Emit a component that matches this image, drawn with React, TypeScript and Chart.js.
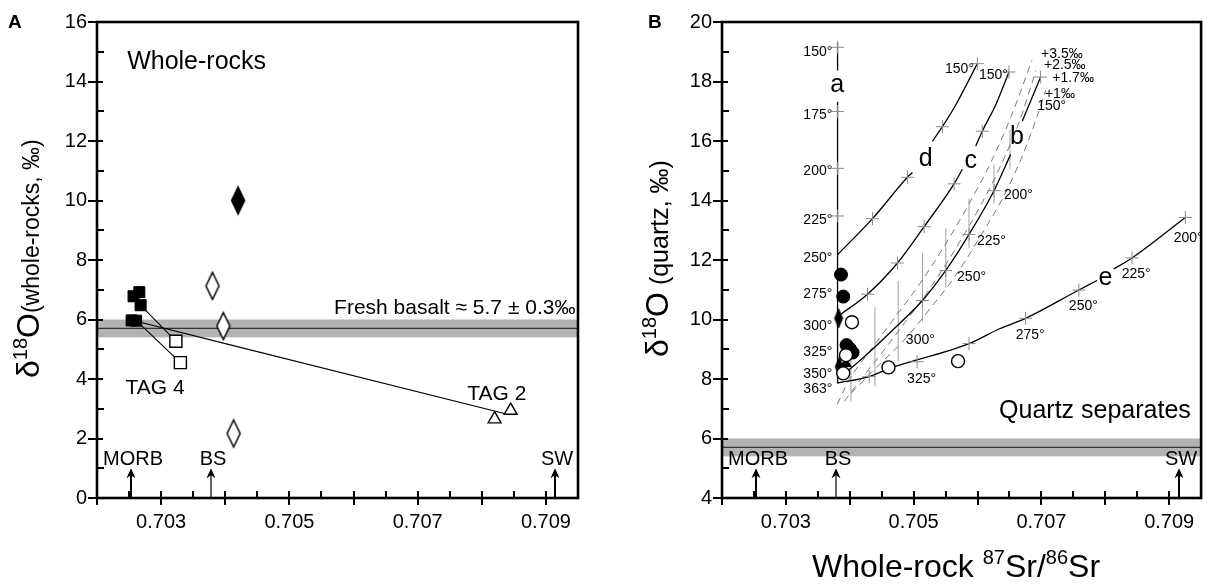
import React, { useEffect, useRef } from "react";
import { Chart, registerables } from "chart.js";
Chart.register(...registerables);

const FONT = "'Liberation Sans', Arial, Helvetica, sans-serif";
const W = 1209;
const H = 584;

// ---------- shared x axis (whole-rock 87Sr/86Sr) ----------
const X_MIN = 0.702;
const X_MAX = 0.7095;
const xTickLabels = [0.703, 0.705, 0.707, 0.709];
const xMajorTicks = [0.703, 0.704, 0.705, 0.706, 0.707, 0.708, 0.709];
const xMinorTicks = [0.7025, 0.7035, 0.7045, 0.7055, 0.7065, 0.7075, 0.7085];

// reference Sr values (arrows)
const refNames = ["MORB", "BS", "SW"];
const refSr = [0.702534, 0.703784, 0.709148];

// fresh basalt d18O band
const basaltLow = 5.4;
const basaltHigh = 6.0;
const basaltMean = 5.7;

// ---------- Panel A : whole rocks ----------
const yTicksA = [0, 2, 4, 6, 8, 10, 12, 14, 16];
const yMinorA = [1, 3, 5, 7, 9, 11, 13, 15];
const filledSquaresA = [
  { x: 0.70254, y: 5.97 },
  { x: 0.70261, y: 5.96 },
  { x: 0.70266, y: 6.92 },
  { x: 0.70257, y: 6.78 },
  { x: 0.70268, y: 6.48 },
];
const openSquaresA = [
  { x: 0.70323, y: 5.27 },
  { x: 0.7033, y: 4.55 },
];
const openTrianglesA = [
  { x: 0.7082, y: 2.65 },
  { x: 0.70845, y: 2.94 },
];
const openDiamondsA = [
  { x: 0.7038, y: 7.13 },
  { x: 0.70397, y: 5.78 },
  { x: 0.70413, y: 2.17 },
];
const filledDiamondsA = [{ x: 0.7042, y: 10.0 }];
const tieLine1 = [
  { x: 0.70268, y: 6.48 },
  { x: 0.70323, y: 5.27 },
];
const tieLine2 = [
  { x: 0.70263, y: 5.93 },
  { x: 0.7033, y: 4.55 },
];
const tieLine3 = [
  { x: 0.70263, y: 5.93 },
  { x: 0.70843, y: 2.8 },
];

// ---------- Panel B : quartz separates ----------
const yTicksB = [4, 6, 8, 10, 12, 14, 16, 18, 20];
const yMinorB = [5, 7, 9, 11, 13, 15, 17, 19];
const filledCirclesB = [
  { x: 0.703863, y: 11.51 },
  { x: 0.703898, y: 10.77 },
  { x: 0.70395, y: 9.14 },
  { x: 0.704, y: 9.02 },
  { x: 0.704044, y: 8.89 },
];
const filledDiamondsB = [
  { x: 0.703825, y: 10.04 },
  { x: 0.703836, y: 8.41 },
];
const filledTrianglesB = [{ x: 0.70394, y: 8.52 }];
const openCirclesB = [
  { x: 0.704034, y: 9.91 },
  { x: 0.703941, y: 8.8 },
  { x: 0.703898, y: 8.19 },
  { x: 0.704606, y: 8.39 },
  { x: 0.705695, y: 8.6 },
];
// model curves
const curveA1 = [
  { x: 0.703809, y: 19.31 },
  { x: 0.703809, y: 18.37 },
];
const curveA2 = [
  { x: 0.703809, y: 17.32 },
  { x: 0.703809, y: 7.86 },
];
const curveD1 = [
  { x: 0.703809, y: 12.18 },
  { x: 0.704356, y: 13.39 },
  { x: 0.704903, y: 14.78 },
  { x: 0.704981, y: 14.94 },
];
const curveD2 = [
  { x: 0.705294, y: 15.99 },
  { x: 0.70545, y: 16.48 },
  { x: 0.705659, y: 17.21 },
  { x: 0.705997, y: 18.6 },
];
const curveC1 = [
  { x: 0.703836, y: 10.14 },
  { x: 0.704278, y: 10.85 },
  { x: 0.704747, y: 11.9 },
  { x: 0.705164, y: 13.12 },
  { x: 0.705633, y: 14.56 },
  { x: 0.705763, y: 15.05 },
];
const curveC2 = [
  { x: 0.705972, y: 15.83 },
  { x: 0.706075, y: 16.33 },
  { x: 0.706284, y: 17.21 },
  { x: 0.706492, y: 18.32 },
];
const curveB1 = [
  { x: 0.703863, y: 8.08 },
  { x: 0.704253, y: 8.8 },
  { x: 0.704747, y: 9.8 },
  { x: 0.705138, y: 10.64 },
  { x: 0.705503, y: 11.65 },
  { x: 0.705867, y: 12.86 },
  { x: 0.706258, y: 14.33 },
  { x: 0.706519, y: 15.55 },
];
const curveB2 = [
  { x: 0.7067, y: 16.66 },
  { x: 0.706988, y: 18.15 },
];
const curveE1 = [
  { x: 0.703809, y: 7.86 },
  { x: 0.704305, y: 8.08 },
  { x: 0.704617, y: 8.35 },
  { x: 0.705867, y: 9.19 },
  { x: 0.706336, y: 9.68 },
  { x: 0.706753, y: 10.04 },
  { x: 0.707586, y: 10.99 },
  { x: 0.707872, y: 11.31 },
];
const curveE2 = [
  { x: 0.708133, y: 11.7 },
  { x: 0.708419, y: 12.07 },
  { x: 0.709253, y: 13.43 },
];
const dash35 = [
  { x: 0.703805, y: 7.15 },
  { x: 0.703992, y: 7.98 },
  { x: 0.704305, y: 8.91 },
  { x: 0.704695, y: 10.04 },
  { x: 0.705086, y: 11.17 },
  { x: 0.705477, y: 12.46 },
  { x: 0.705867, y: 13.89 },
  { x: 0.706211, y: 15.29 },
  { x: 0.706523, y: 16.81 },
  { x: 0.706852, y: 18.71 },
];
const dash25 = [
  { x: 0.703914, y: 7.25 },
  { x: 0.704148, y: 7.92 },
  { x: 0.704492, y: 8.85 },
  { x: 0.704867, y: 9.91 },
  { x: 0.705242, y: 11.0 },
  { x: 0.705633, y: 12.3 },
  { x: 0.706023, y: 13.73 },
  { x: 0.706336, y: 15.05 },
  { x: 0.706648, y: 16.61 },
  { x: 0.706914, y: 18.37 },
];
const dash10 = [
  { x: 0.704023, y: 7.52 },
  { x: 0.704383, y: 8.32 },
  { x: 0.704852, y: 9.31 },
  { x: 0.705273, y: 10.41 },
  { x: 0.705664, y: 11.5 },
  { x: 0.706055, y: 12.83 },
  { x: 0.706414, y: 14.16 },
  { x: 0.70668, y: 15.39 },
  { x: 0.706898, y: 16.61 },
  { x: 0.70707, y: 17.71 },
];
const isoX = [0.704019, 0.704394, 0.704758, 0.705138, 0.705503, 0.705867, 0.706258, 0.706508];
const isoTop = [9.18, 10.41, 11.3, 12.23, 13.06, 14.06, 15.22, 16.38];
const isoBottom = [7.25, 7.75, 8.58, 9.91, 11.07, 12.4, 13.89, 15.05];
const crossesB = [
  { x: 0.703809, y: 19.15 },
  { x: 0.703809, y: 16.99 },
  { x: 0.703809, y: 15.08 },
  { x: 0.703809, y: 13.48 },
  { x: 0.704356, y: 13.39 },
  { x: 0.704903, y: 14.78 },
  { x: 0.70545, y: 16.48 },
  { x: 0.705997, y: 18.6 },
  { x: 0.704278, y: 10.85 },
  { x: 0.704747, y: 11.9 },
  { x: 0.705164, y: 13.12 },
  { x: 0.705633, y: 14.56 },
  { x: 0.706075, y: 16.33 },
  { x: 0.706492, y: 18.32 },
  { x: 0.705138, y: 10.64 },
  { x: 0.705503, y: 11.65 },
  { x: 0.705867, y: 12.86 },
  { x: 0.706258, y: 14.33 },
  { x: 0.706988, y: 18.15 },
  { x: 0.704305, y: 8.08 },
  { x: 0.705055, y: 8.58 },
  { x: 0.705867, y: 9.19 },
  { x: 0.706753, y: 10.04 },
  { x: 0.707586, y: 10.99 },
  { x: 0.708419, y: 12.07 },
  { x: 0.709253, y: 13.43 },
];

// ---------- annotation texts (data coordinates) ----------
type Lbl = { t: string; x: number; y: number; size: number; align: CanvasTextAlign };
const labelsA: Lbl[] = [
  { t: "Whole-rocks", x: 0.70247, y: 14.64, size: 25, align: "left" },
  { t: "Fresh basalt \u2248 5.7 \u00b1 0.3\u2030", x: 0.70946, y: 6.37, size: 21, align: "right" },
  { t: "TAG 4", x: 0.702445, y: 3.68, size: 21, align: "left" },
  { t: "TAG 2", x: 0.707773, y: 3.49, size: 21, align: "left" },
];
const aTempNames = ["150°", "175°", "200°", "225°", "250°", "275°", "300°", "325°", "350°", "363°"];
const aTempY = [18.98, 16.86, 15.0, 13.34, 12.07, 10.85, 9.78, 8.91, 8.16, 7.67];
const labelsB: Lbl[] = [
  ...aTempNames.map((t, i) => ({ t, x: 0.703727, y: aTempY[i], size: 14, align: "right" as CanvasTextAlign })),
  { t: "a", x: 0.703805, y: 17.88, size: 25, align: "center" },
  { t: "d", x: 0.70519, y: 15.39, size: 25, align: "center" },
  { t: "c", x: 0.705894, y: 15.33, size: 25, align: "center" },
  { t: "b", x: 0.706617, y: 16.12, size: 25, align: "center" },
  { t: "e", x: 0.708003, y: 11.4, size: 25, align: "center" },
  { t: "150°", x: 0.705945, y: 18.43, size: 14, align: "right" },
  { t: "150°", x: 0.706023, y: 18.21, size: 14, align: "left" },
  { t: "+3.5\u2030", x: 0.706995, y: 18.93, size: 14, align: "left" },
  { t: "+2.5\u2030", x: 0.70704, y: 18.54, size: 14, align: "left" },
  { t: "+1.7\u2030", x: 0.70717, y: 18.1, size: 14, align: "left" },
  { t: "+1\u2030", x: 0.707055, y: 17.57, size: 14, align: "left" },
  { t: "150°", x: 0.706934, y: 17.18, size: 14, align: "left" },
  { t: "200°", x: 0.706414, y: 14.17, size: 14, align: "left" },
  { t: "225°", x: 0.705992, y: 12.63, size: 14, align: "left" },
  { t: "250°", x: 0.70568, y: 11.43, size: 14, align: "left" },
  { t: "300°", x: 0.704878, y: 9.31, size: 14, align: "left" },
  { t: "325°", x: 0.704898, y: 7.98, size: 14, align: "left" },
  { t: "275°", x: 0.706597, y: 9.47, size: 14, align: "left" },
  { t: "250°", x: 0.70743, y: 10.44, size: 14, align: "left" },
  { t: "225°", x: 0.708258, y: 11.51, size: 14, align: "left" },
  { t: "200°", x: 0.70907, y: 12.73, size: 14, align: "left" },
  { t: "Quartz separates", x: 0.709339, y: 6.92, size: 25, align: "right" },
];

type Seg = { t: string; size: number; raise?: number };
const yTitleA: Seg[] = [
  { t: "δ", size: 32 },
  { t: "18", size: 20, raise: 12 },
  { t: "O", size: 32 },
  { t: "(whole-rocks, \u2030)", size: 23 },
];
const yTitleB: Seg[] = [
  { t: "δ", size: 32 },
  { t: "18", size: 20, raise: 12 },
  { t: "O", size: 32 },
  { t: " (quartz, \u2030)", size: 25 },
];
const xTitleB: Seg[] = [
  { t: "Whole-rock ", size: 32 },
  { t: "87", size: 20, raise: 13 },
  { t: "Sr/", size: 32 },
  { t: "86", size: 20, raise: 13 },
  { t: "Sr", size: 32 },
];

// ---------- helpers ----------
function diamondImg(w: number, h: number, filled: boolean, lw: number) {
  const c = document.createElement("canvas");
  c.width = Math.ceil(w + 2 * lw + 2);
  c.height = Math.ceil(h + 2 * lw + 2);
  const g = c.getContext("2d")!;
  const cx = c.width / 2;
  const cy = c.height / 2;
  g.beginPath();
  g.moveTo(cx, cy - h / 2);
  g.lineTo(cx + w / 2, cy);
  g.lineTo(cx, cy + h / 2);
  g.lineTo(cx - w / 2, cy);
  g.closePath();
  g.fillStyle = filled ? "#000" : "#fff";
  g.fill();
  g.lineWidth = lw;
  g.strokeStyle = "#000";
  g.stroke();
  return c;
}

function drawRich(ctx: CanvasRenderingContext2D, segs: Seg[], x: number, y: number) {
  let cx = x;
  for (const s of segs) {
    ctx.font = `${s.size}px ${FONT}`;
    ctx.fillText(s.t, cx, y - (s.raise || 0));
    cx += ctx.measureText(s.t).width;
  }
}

type PanelCfg = {
  yMin: number;
  yMax: number;
  yTicks: number[];
  yMinor: number[];
  yAxisWidth: number;
  padRight: number;
  labels: Lbl[];
  yTitle: Seg[];
  yTitleX: number;
  yTitleStart: number;
  xTitle?: Seg[];
  xTitleX?: number;
  xTitleY?: number;
  letter: string;
  letterX: number;
};

function panelPlugin(cfg: PanelCfg) {
  return {
    id: "panel" + cfg.letter,
    beforeDatasetsDraw(chart: any) {
      const ctx: CanvasRenderingContext2D = chart.ctx;
      const { left, right } = chart.chartArea;
      const ys = chart.scales.y;
      const yl = ys.getPixelForValue(basaltLow);
      const yh = ys.getPixelForValue(basaltHigh);
      const ym = ys.getPixelForValue(basaltMean);
      ctx.save();
      ctx.fillStyle = "#b3b3b3";
      ctx.fillRect(left, yh, right - left, yl - yh);
      ctx.strokeStyle = "#333";
      ctx.lineWidth = 1.3;
      ctx.beginPath();
      ctx.moveTo(left, ym);
      ctx.lineTo(right, ym);
      ctx.stroke();
      ctx.restore();
    },
    afterDatasetsDraw(chart: any) {
      const ctx: CanvasRenderingContext2D = chart.ctx;
      const { left, right, top, bottom } = chart.chartArea;
      const xs = chart.scales.x;
      const ys = chart.scales.y;
      ctx.save();
      // ticks
      ctx.strokeStyle = "#000";
      ctx.lineWidth = 2;
      ctx.beginPath();
      for (const v of cfg.yTicks) {
        const p = Math.round(ys.getPixelForValue(v));
        ctx.moveTo(left - 9, p);
        ctx.lineTo(left + 6, p);
      }
      for (const v of cfg.yMinor) {
        const p = Math.round(ys.getPixelForValue(v));
        ctx.moveTo(left, p);
        ctx.lineTo(left + 7, p);
      }
      for (const v of xMajorTicks) {
        const p = Math.round(xs.getPixelForValue(v));
        ctx.moveTo(p, bottom + 7);
        ctx.lineTo(p, bottom - 7);
      }
      for (const v of xMinorTicks) {
        const p = Math.round(xs.getPixelForValue(v));
        ctx.moveTo(p, bottom);
        ctx.lineTo(p, bottom - 7);
      }
      ctx.moveTo(left, bottom + 7);
      ctx.lineTo(left, bottom);
      ctx.stroke();
      // box
      ctx.lineWidth = 2.6;
      ctx.strokeRect(left, top, right - left, bottom - top);

      // arrows
      ctx.fillStyle = "#000";
      const yTop = ys.getPixelForValue(cfg.yMin + 1.0);
      const yLab = ys.getPixelForValue(cfg.yMin + 1.3);
      refSr.forEach((v, i) => {
        const px = Math.round(xs.getPixelForValue(v));
        ctx.lineWidth = i === 1 ? 1.2 : 2;
        ctx.beginPath();
        ctx.moveTo(px, bottom);
        ctx.lineTo(px, yTop + 6);
        ctx.stroke();
        ctx.beginPath();
        ctx.moveTo(px, yTop);
        ctx.lineTo(px - 4.5, yTop + 10);
        ctx.lineTo(px, yTop + 7);
        ctx.lineTo(px + 4.5, yTop + 10);
        ctx.closePath();
        ctx.fill();
        ctx.font = `20px ${FONT}`;
        ctx.textAlign = "center";
        ctx.textBaseline = "middle";
        ctx.fillText(refNames[i], px + 2, yLab);
      });

      // labels
      ctx.textBaseline = "middle";
      for (const l of cfg.labels) {
        ctx.font = `${l.size}px ${FONT}`;
        ctx.textAlign = l.align;
        ctx.fillText(l.t, xs.getPixelForValue(l.x), ys.getPixelForValue(l.y));
      }

      // y title
      ctx.textAlign = "left";
      ctx.textBaseline = "alphabetic";
      ctx.save();
      ctx.translate(cfg.yTitleX, cfg.yTitleStart);
      ctx.rotate(-Math.PI / 2);
      drawRich(ctx, cfg.yTitle, 0, 0);
      ctx.restore();
      if (cfg.xTitle) drawRich(ctx, cfg.xTitle, cfg.xTitleX!, cfg.xTitleY!);

      // panel letter
      ctx.font = `bold 19px ${FONT}`;
      ctx.textBaseline = "middle";
      ctx.fillText(cfg.letter, cfg.letterX, 23);
      ctx.restore();
    },
  };
}

function buildOptions(cfg: PanelCfg) {
  return {
    responsive: false,
    animation: false,
    devicePixelRatio: 1,
    events: [],
    layout: { padding: { left: 0, top: 16, right: cfg.padRight, bottom: 0 } },
    plugins: { legend: { display: false }, tooltip: { enabled: false } },
    scales: {
      x: {
        type: "linear",
        min: X_MIN,
        max: X_MAX,
        grid: { display: false, drawTicks: false },
        border: { display: false },
        afterBuildTicks: (s: any) => {
          s.ticks = xTickLabels.map((v) => ({ value: v }));
        },
        afterFit: (s: any) => {
          s.height = 86;
        },
        ticks: {
          color: "#000",
          font: { family: FONT, size: 20 },
          padding: 12,
          maxRotation: 0,
          autoSkip: false,
          callback: (v: any) => Number(v).toFixed(3),
        },
      },
      y: {
        type: "linear",
        min: cfg.yMin,
        max: cfg.yMax,
        grid: { display: false, drawTicks: false },
        border: { display: false },
        afterBuildTicks: (s: any) => {
          s.ticks = cfg.yTicks.map((v) => ({ value: v }));
        },
        afterFit: (s: any) => {
          s.width = cfg.yAxisWidth;
        },
        ticks: {
          color: "#000",
          font: { family: FONT, size: 20 },
          padding: 10,
          autoSkip: false,
          callback: (v: any) => String(v),
        },
      },
    },
  };
}

const lineDs = (data: any[], extra: any = {}) => ({
  data,
  showLine: true,
  pointRadius: 0,
  borderColor: "#000",
  borderWidth: 1.3,
  tension: 0.4,
  cubicInterpolationMode: "monotone",
  fill: false,
  ...extra,
});

export default function App() {
  const refA = useRef<HTMLCanvasElement>(null);
  const refB = useRef<HTMLCanvasElement>(null);

  useEffect(() => {
    const bigDiaFilled = diamondImg(13, 27, true, 1.5);
    const bigDiaOpen = diamondImg(13, 27, false, 1.5);
    const smallDiaFilled = diamondImg(8, 19, true, 1);

    const cfgA: PanelCfg = {
      yMin: 0,
      yMax: 16,
      yTicks: yTicksA,
      yMinor: yMinorA,
      yAxisWidth: 97,
      padRight: 26,
      labels: labelsA,
      yTitle: yTitleA,
      yTitleX: 39,
      yTitleStart: 378,
      letter: "A",
      letterX: 8,
    };
    const cfgB: PanelCfg = {
      yMin: 4,
      yMax: 20,
      yTicks: yTicksB,
      yMinor: yMinorB,
      yAxisWidth: 118,
      padRight: 7,
      labels: labelsB,
      yTitle: yTitleB,
      yTitleX: 64,
      yTitleStart: 357,
      xTitle: xTitleB,
      xTitleX: 208,
      xTitleY: 577,
      letter: "B",
      letterX: 44,
    };

    const open = { pointBackgroundColor: "#fff", pointBorderColor: "#000", pointBorderWidth: 1.4 };
    const filled = { pointBackgroundColor: "#000", pointBorderColor: "#000", pointBorderWidth: 1 };

    const dsA: any[] = [
      { data: filledDiamondsA, pointStyle: bigDiaFilled, pointRadius: 8 },
      { data: openDiamondsA, pointStyle: bigDiaOpen, pointRadius: 8 },
      { data: openTrianglesA, pointStyle: "triangle", pointRadius: 7.5, ...open },
      { data: filledSquaresA, pointStyle: "rect", pointRadius: 7.8, ...filled },
      { data: openSquaresA, pointStyle: "rect", pointRadius: 8.5, ...open },
      lineDs(tieLine1, { tension: 0, borderWidth: 1.1 }),
      lineDs(tieLine2, { tension: 0, borderWidth: 1.1 }),
      lineDs(tieLine3, { tension: 0, borderWidth: 1.1 }),
    ];

    const dsB: any[] = [
      { data: openCirclesB.slice(1, 3), pointStyle: "circle", pointRadius: 6.5, ...open },
      { data: filledTrianglesB, pointStyle: "triangle", pointRadius: 6, ...filled },
      { data: filledDiamondsB, pointStyle: smallDiaFilled, pointRadius: 6 },
      { data: filledCirclesB, pointStyle: "circle", pointRadius: 6.5, ...filled },
      { data: [openCirclesB[0], openCirclesB[3], openCirclesB[4]], pointStyle: "circle", pointRadius: 6.5, ...open },
      {
        data: crossesB,
        pointStyle: "cross",
        pointRadius: 6.5,
        pointBorderColor: "#8a8a8a",
        pointBorderWidth: 1,
      },
      lineDs(curveA1, { tension: 0 }),
      lineDs(curveA2, { tension: 0 }),
      lineDs(curveD1),
      lineDs(curveD2),
      lineDs(curveC1),
      lineDs(curveC2),
      lineDs(curveB1),
      lineDs(curveB2),
      lineDs(curveE1),
      lineDs(curveE2),
      lineDs(dash35, { borderColor: "#777", borderWidth: 1, borderDash: [7, 5] }),
      lineDs(dash25, { borderColor: "#777", borderWidth: 1, borderDash: [7, 5] }),
      lineDs(dash10, { borderColor: "#777", borderWidth: 1, borderDash: [7, 5] }),
      ...isoX.map((x, i) =>
        lineDs(
          [
            { x, y: isoTop[i] },
            { x, y: isoBottom[i] },
          ],
          { tension: 0, borderColor: "#a0a0a0", borderWidth: 1 }
        )
      ),
    ];

    const chA = new Chart(refA.current!, {
      type: "scatter",
      data: { datasets: dsA },
      options: buildOptions(cfgA) as any,
      plugins: [panelPlugin(cfgA)],
    });
    const chB = new Chart(refB.current!, {
      type: "scatter",
      data: { datasets: dsB },
      options: buildOptions(cfgB) as any,
      plugins: [panelPlugin(cfgB)],
    });
    return () => {
      chA.destroy();
      chB.destroy();
    };
  }, []);

  return (
    <div style={{ position: "fixed", left: 0, top: 0, width: W, height: H, background: "#fff" }}>
      <canvas
        ref={refA}
        width={604}
        height={H}
        style={{ position: "absolute", left: 0, top: 0, width: 604, height: H }}
      />
      <canvas
        ref={refB}
        width={605}
        height={H}
        style={{ position: "absolute", left: 604, top: 0, width: 605, height: H }}
      />
    </div>
  );
}
